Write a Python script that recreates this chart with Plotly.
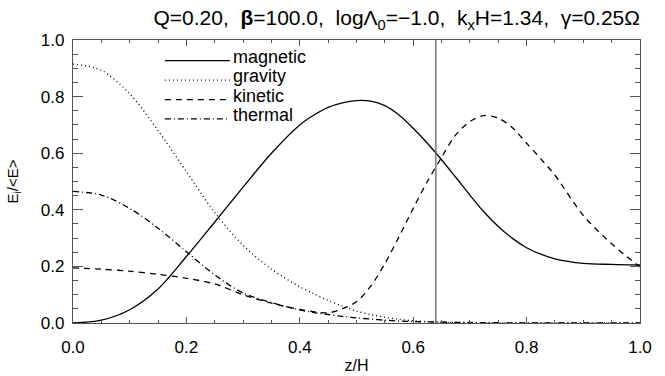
import plotly.graph_objects as go

# ---- data ----
z = [0.00, 0.05, 0.10, 0.15, 0.20, 0.25, 0.30, 0.35, 0.40, 0.425, 0.45, 0.475, 0.50,
     0.525, 0.55, 0.575, 0.60, 0.625, 0.65, 0.675, 0.70, 0.725, 0.75, 0.775, 0.80,
     0.825, 0.85, 0.90, 0.95, 1.00]
magnetic = [0.000, 0.010, 0.047, 0.120, 0.235, 0.357, 0.480, 0.600, 0.700, 0.735, 0.762, 0.778, 0.786,
            0.784, 0.768, 0.735, 0.688, 0.635, 0.577, 0.515, 0.452, 0.392, 0.341, 0.299, 0.266,
            0.243, 0.227, 0.211, 0.207, 0.205]
gravity = [0.915, 0.893, 0.810, 0.680, 0.535, 0.390, 0.275, 0.190, 0.128, 0.103, 0.080, 0.060, 0.042,
           0.030, 0.020, 0.013, 0.008, 0.005, 0.003, 0.002, 0.001, 0.000, 0.000, 0.000, 0.000,
           0.000, 0.000, 0.000, 0.000, 0.000]
kinetic = [0.195, 0.190, 0.183, 0.172, 0.158, 0.138, 0.100, 0.070, 0.048, 0.040, 0.036, 0.050, 0.075,
           0.130, 0.210, 0.305, 0.405, 0.500, 0.585, 0.665, 0.712, 0.733, 0.724, 0.690, 0.635,
           0.580, 0.522, 0.380, 0.280, 0.198]
thermal = [0.465, 0.452, 0.405, 0.335, 0.252, 0.170, 0.106, 0.072, 0.046, 0.037, 0.030, 0.023, 0.018,
           0.014, 0.010, 0.007, 0.005, 0.004, 0.003, 0.002, 0.002, 0.001, 0.001, 0.000, 0.000,
           0.000, 0.000, 0.000, 0.000, 0.000]
series_names = ["magnetic", "gravity", "kinetic", "thermal"]
vline_z = 0.64
x_ticks = [0.0, 0.2, 0.4, 0.6, 0.8, 1.0]
y_ticks = [0.0, 0.2, 0.4, 0.6, 0.8, 1.0]
title_text = ("Q=0.20,  <b>β</b>=100.0,  logΛ<sub>0</sub>=−1.0,  "
              "k<sub>x</sub>H=1.34,  γ=0.25Ω")

# ---- styles ----
dashes = {"magnetic": "solid", "gravity": "1px,3px",
          "kinetic": "6px,5px", "thermal": "6px,3px,1px,3px"}
values = {"magnetic": magnetic, "gravity": gravity, "kinetic": kinetic, "thermal": thermal}
FONT = "Liberation Sans, Arial, sans-serif"

fig = go.Figure()
for name in series_names:
    fig.add_trace(go.Scatter(
        x=z, y=values[name], mode="lines", name=name, showlegend=False,
        line=dict(color="black", width=1.3, dash=dashes[name], shape="spline", smoothing=0.9),
    ))

# vertical marker line
fig.add_shape(type="line", xref="x", yref="paper", x0=vline_z, x1=vline_z, y0=0, y1=1,
              line=dict(color="#666666", width=1.3))

# manual legend (long line samples like the original)
leg_x0, leg_x1, leg_text_x = 0.162, 0.2765, 0.279
leg_y = [0.927, 0.858, 0.789, 0.721]
for name, yy in zip(series_names, leg_y):
    fig.add_shape(type="line", xref="paper", yref="paper", x0=leg_x0, x1=leg_x1, y0=yy, y1=yy,
                  line=dict(color="black", width=1.3, dash=dashes[name]))
    fig.add_annotation(xref="paper", yref="paper", x=leg_text_x, y=yy + 0.014, text=name,
                       showarrow=False, xanchor="left", yanchor="middle",
                       font=dict(family=FONT, size=18, color="black"))

axis_common = dict(
    showgrid=False, zeroline=False, showline=True, linecolor="#555555", linewidth=1.2,
    mirror="allticks", ticks="inside", tickcolor="#555555", automargin=False,
    tickfont=dict(family=FONT, size=17, color="black"),
)
fig.update_xaxes(range=[0, 1], tickvals=x_ticks, ticktext=[f"{v:.1f}" for v in x_ticks],
                 ticklen=6, tickwidth=1, ticklabelstandoff=8,
                 minor=dict(ticks="inside", dtick=0.05, ticklen=3, tickcolor="#555555"),
                 title=dict(text="z/H", font=dict(family=FONT, size=16, color="black"), standoff=4),
                 **axis_common)
fig.update_yaxes(range=[0, 1], tickvals=y_ticks, ticktext=[f"{v:.1f}" for v in y_ticks],
                 ticklen=10, tickwidth=1, ticklabelstandoff=4,
                 minor=dict(ticks="inside", dtick=0.05, ticklen=5, tickcolor="#555555"),
                 title=dict(text="E<sub>i</sub>/&lt;E&gt;", font=dict(family=FONT, size=15, color="black"),
                            standoff=18),
                 **axis_common)

fig.update_layout(
    width=665, height=376,
    margin=dict(l=73, r=25, t=40, b=53),
    paper_bgcolor="white", plot_bgcolor="white",
    title=dict(text=title_text, x=1.0, xref="paper", y=0.952, yref="container",
               xanchor="right", yanchor="middle",
               font=dict(family=FONT, size=21, color="black")),
)

fig.write_html("out.html")
